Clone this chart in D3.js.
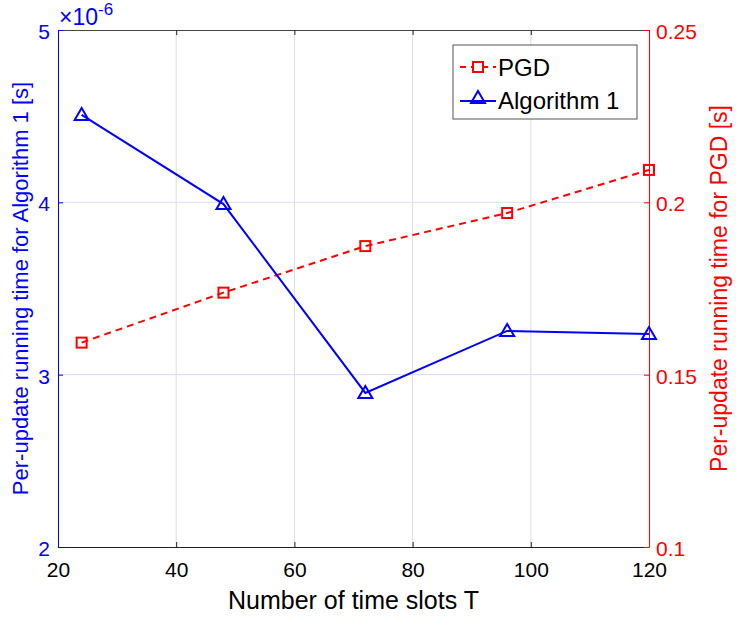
<!DOCTYPE html>
<html>
<head>
<meta charset="utf-8">
<script src="https://cdn.jsdelivr.net/npm/d3@7"></script>
<style>
  body { margin: 0; background: #fff; }
  svg, svg text { font-family: "Liberation Sans", Arial, sans-serif; }
</style>
</head>
<body>
<div id="chart"></div>
<script>
// Data
const slots = [24, 48, 72, 96, 120];
const pgd = [0.1593, 0.1738, 0.1873, 0.1969, 0.2094];        // right axis [s]
const algo1 = [4.507, 3.99, 2.894, 3.254, 3.236];             // left axis, x1e-6 [s]
const xTicks = [20, 40, 60, 80, 100, 120];
const leftTicks = [2, 3, 4, 5];
const rightTicks = [0.1, 0.15, 0.2, 0.25];

const width = 739;
const height = 620;
const margin = { top: 30, left: 58, bottom: 73, right: 90 };
const tickFont = 21;

const svg = d3
  .select('#chart')
  .append('svg')
  .attr('width', width)
  .attr('height', height);

const x = d3.scaleLinear().domain([20, 120]).range([margin.left, width - margin.right]);
const yL = d3.scaleLinear().domain([2, 5]).range([height - margin.bottom, margin.top]);
const yR = d3.scaleLinear().domain([0.1, 0.25]).range([height - margin.bottom, margin.top]);

const blue = '#0000ff';
const red = '#ff0000';
const x0 = margin.left, x1 = width - margin.right;
const y0 = height - margin.bottom, y1 = margin.top;

// grid
svg.append('g')
  .selectAll('line')
  .data(xTicks.slice(1, -1))
  .enter()
  .append('line')
  .attr('x1', (d) => x(d)).attr('x2', (d) => x(d))
  .attr('y1', y0).attr('y2', y1)
  .attr('stroke', '#dedede').attr('stroke-width', 1);

svg.append('g')
  .selectAll('line')
  .data(leftTicks.slice(1, -1))
  .enter()
  .append('line')
  .attr('x1', x0).attr('x2', x1)
  .attr('y1', (d) => yL(d)).attr('y2', (d) => yL(d))
  .attr('stroke', '#dcdcff').attr('stroke-width', 1);

// axes
const xAxis = (g) =>
  g
    .attr('transform', `translate(0, ${y0})`)
    .call(d3.axisBottom(x).tickValues(xTicks).tickSizeInner(-5).tickSizeOuter(0).tickPadding(15))
    .attr('font-family', null)
    .call((g) => g.select('.domain').attr('stroke', '#222'))
    .call((g) => g.selectAll('.tick line').attr('stroke', '#222'))
    .call((g) => g.selectAll('.tick text').attr('font-size', tickFont).attr('fill', '#000'));

const xTop = (g) =>
  g
    .attr('transform', `translate(0, ${y1})`)
    .call(d3.axisTop(x).tickValues(xTicks).tickSizeInner(-5).tickSizeOuter(0).tickFormat(''))
    .call((g) => g.select('.domain').attr('stroke', '#444'))
    .call((g) => g.selectAll('.tick line').attr('stroke', '#222'));

const yLeft = (g) =>
  g
    .attr('transform', `translate(${x0}, 0)`)
    .call(d3.axisLeft(yL).tickValues(leftTicks).tickSizeInner(-5).tickSizeOuter(0).tickPadding(8)
      .tickFormat(d3.format('d')))
    .attr('font-family', null)
    .call((g) => g.select('.domain').attr('stroke', blue))
    .call((g) => g.selectAll('.tick line').attr('stroke', blue))
    .call((g) => g.selectAll('.tick text').attr('font-size', tickFont).attr('fill', blue).attr('dy', '0.4em'));

const yRight = (g) =>
  g
    .attr('transform', `translate(${x1}, 0)`)
    .call(d3.axisRight(yR).tickValues(rightTicks).tickSizeInner(-5).tickSizeOuter(0).tickPadding(7)
      .tickFormat((d) => String(+d.toFixed(2))))
    .attr('font-family', null)
    .call((g) => g.select('.domain').attr('stroke', red))
    .call((g) => g.selectAll('.tick line').attr('stroke', red))
    .call((g) => g.selectAll('.tick text').attr('font-size', tickFont).attr('fill', red).attr('dy', '0.4em'));

svg.append('g').call(xAxis);
svg.append('g').call(xTop);
svg.append('g').call(yLeft);
svg.append('g').call(yRight);

// exponent label
const expo = svg.append('text')
  .attr('x', x0 + 1).attr('y', 25)
  .attr('font-size', 23).attr('fill', blue);
expo.append('tspan').text('×10');
expo.append('tspan').attr('dy', -10).attr('font-size', 17).text('-6');

// axis labels
svg.append('text')
  .attr('x', (x0 + x1) / 2).attr('y', 609)
  .attr('text-anchor', 'middle').attr('font-size', 25).attr('fill', '#000')
  .text('Number of time slots T');

svg.append('text')
  .attr('transform', `translate(28, ${(y0 + y1) / 2}) rotate(-90)`)
  .attr('text-anchor', 'middle').attr('font-size', 22).attr('fill', blue)
  .text('Per-update running time for Algorithm 1 [s]');

svg.append('text')
  .attr('transform', `translate(727, ${(y0 + y1) / 2}) rotate(-90)`)
  .attr('text-anchor', 'middle').attr('font-size', 23).attr('fill', red)
  .text('Per-update running time for PGD [s]');

// PGD line
const pgdData = slots.map((t, i) => ({ t, v: pgd[i] }));
const algoData = slots.map((t, i) => ({ t, v: algo1[i] }));

svg.append('path')
  .datum(pgdData)
  .attr('fill', 'none')
  .attr('stroke', red)
  .attr('stroke-width', 2)
  .attr('stroke-dasharray', '7 5')
  .attr('d', d3.line().x((d) => x(d.t)).y((d) => yR(d.v)));

svg.append('g')
  .selectAll('rect')
  .data(pgdData)
  .enter()
  .append('rect')
  .attr('x', (d) => x(d.t) - 5)
  .attr('y', (d) => yR(d.v) - 5)
  .attr('width', 10).attr('height', 10)
  .attr('fill', 'none').attr('stroke', red).attr('stroke-width', 2);

// Algorithm 1 line
svg.append('path')
  .datum(algoData)
  .attr('fill', 'none')
  .attr('stroke', blue)
  .attr('stroke-width', 2)
  .attr('d', d3.line().x((d) => x(d.t)).y((d) => yL(d.v)));

const tri = (cx, cy) => `M${cx},${cy - 7}L${cx + 7},${cy + 5}L${cx - 7},${cy + 5}Z`;

svg.append('g')
  .selectAll('path')
  .data(algoData)
  .enter()
  .append('path')
  .attr('d', (d) => tri(x(d.t), yL(d.v)))
  .attr('fill', 'none').attr('stroke', blue).attr('stroke-width', 2);

// legend
const lg = svg.append('g');
lg.append('rect')
  .attr('x', 453).attr('y', 45).attr('width', 184).attr('height', 74)
  .attr('fill', '#fff').attr('stroke', '#555').attr('stroke-width', 1);

lg.append('line')
  .attr('x1', 460).attr('x2', 496).attr('y1', 67).attr('y2', 67)
  .attr('stroke', red).attr('stroke-width', 2).attr('stroke-dasharray', '6 5');
lg.append('rect')
  .attr('x', 473).attr('y', 62).attr('width', 10).attr('height', 10)
  .attr('fill', '#fff').attr('stroke', red).attr('stroke-width', 2);
lg.append('text')
  .attr('x', 498).attr('y', 76).attr('font-size', 24).attr('fill', '#000').text('PGD');

lg.append('line')
  .attr('x1', 460).attr('x2', 496).attr('y1', 101).attr('y2', 101)
  .attr('stroke', blue).attr('stroke-width', 2);
lg.append('path')
  .attr('d', tri(478, 98))
  .attr('fill', 'none').attr('stroke', blue).attr('stroke-width', 2);
lg.append('text')
  .attr('x', 498).attr('y', 109).attr('font-size', 24).attr('fill', '#000').text('Algorithm 1');
</script>
</body>
</html>
